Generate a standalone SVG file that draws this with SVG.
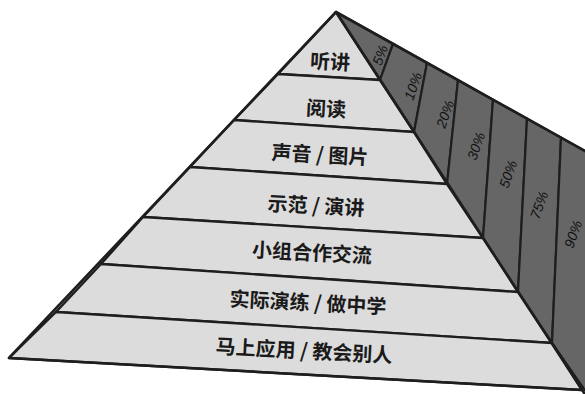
<svg xmlns="http://www.w3.org/2000/svg" width="585" height="394" viewBox="0 0 585 394">
  <style>
    .band { fill: #dcdcdc; stroke: #1e1e1e; stroke-width: 2.4; stroke-linejoin: round; }
    .strip { fill: #666666; stroke: #1e1e1e; stroke-width: 2.2; stroke-linejoin: round; }
    .lbl { font-family: "Noto Sans CJK SC", "Noto Sans", sans-serif; font-size: 20px; font-weight: 700; fill: #1a1a1a; text-anchor: middle; }
    .pct { font-family: "Liberation Sans", "DejaVu Sans", sans-serif; font-size: 14px; font-style: italic; fill: #111111; text-anchor: middle; }
    .edge { fill: none; stroke: #1e1e1e; stroke-width: 2.6; stroke-linecap: round; stroke-linejoin: round; }
  </style>
  <rect width="585" height="394" fill="#ffffff"/>

  <!-- right (dark) face -->
  <g id="retention">
    <g id="r1"><polygon class="strip" points="336,12 393,43.8 380,80"/><text class="pct" transform="translate(380,55) rotate(-70)" y="5">5%</text></g>
    <g id="r2"><polygon class="strip" points="393,43.8 427,62.8 414,132 380,80"/><text class="pct" transform="translate(413,86) rotate(-70)" y="5">10%</text></g>
    <g id="r3"><polygon class="strip" points="427,62.8 458,80 447,184 414,132"/><text class="pct" transform="translate(445,114) rotate(-70)" y="5">20%</text></g>
    <g id="r4"><polygon class="strip" points="458,80 493,99.6 483,238 447,184"/><text class="pct" transform="translate(476,146) rotate(-70)" y="5">30%</text></g>
    <g id="r5"><polygon class="strip" points="493,99.6 527,118.6 518,292 483,238"/><text class="pct" transform="translate(508,174) rotate(-70)" y="5">50%</text></g>
    <g id="r6"><polygon class="strip" points="527,118.6 561,137.6 552,343 518,292"/><text class="pct" transform="translate(539,205) rotate(-70)" y="5">75%</text></g>
    <g id="r7"><polygon class="strip" points="561,137.6 600,159.4 600,412 552,343"/><text class="pct" transform="translate(573,234) rotate(-70)" y="5">90%</text></g>
  </g>

  <!-- left (light) face: layers -->
  <g id="layer1"><polygon class="band" points="336,12 380,80 278,74"/><text class="lbl" transform="translate(330,62) rotate(3)" y="7">听讲</text></g>
  <g id="layer2"><polygon class="band" points="278,74 380,80 414,132 234,120"/><text class="lbl" transform="translate(326,109) rotate(3)" y="7">阅读</text></g>
  <g id="layer3"><polygon class="band" points="234,120 414,132 447,184 190,167"/><text class="lbl" transform="translate(320,155) rotate(3)" y="7">声音 / 图片</text></g>
  <g id="layer4"><polygon class="band" points="190,167 447,184 483,238 143,217"/><text class="lbl" transform="translate(316,206) rotate(3)" y="7">示范 / 演讲</text></g>
  <g id="layer5"><polygon class="band" points="143,217 483,238 518,292 101,264"/><text class="lbl" transform="translate(312,253) rotate(3)" y="7">小组合作交流</text></g>
  <g id="layer6"><polygon class="band" points="101,264 518,292 552,343 56,312"/><text class="lbl" transform="translate(308,303) rotate(3)" y="7">实际演练 / 做中学</text></g>
  <g id="layer7"><polygon class="band" points="56,312 552,343 582,390 9,358"/><text class="lbl" transform="translate(304,351) rotate(3)" y="7">马上应用 / 教会别人</text></g>

  <!-- outline -->
  <g id="outline">
    <polyline class="edge" points="600,159.4 336,12 9,358 582,390"/>
    <polyline class="edge" points="336,12 590,402"/>
  </g>
</svg>
